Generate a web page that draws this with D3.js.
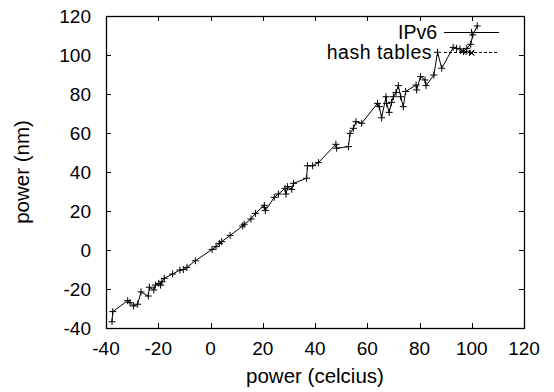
<!DOCTYPE html>
<html><head><meta charset="utf-8">
<script src="https://cdn.jsdelivr.net/npm/d3@7"></script>
<style>body{margin:0;background:#fff}svg{display:block}text{font-family:"Liberation Sans",Arial,sans-serif;fill:#000}</style>
</head><body><svg id="c" width="554" height="392"></svg>
<script>
const xTicks = [-40,-20,0,20,40,60,80,100,120];
const yTicks = [-40,-20,0,20,40,60,80,100,120];
const seriesNames = ["IPv6","hash tables"];
const ipv6X = [-37.7,-37.4,-31.7,-30.8,-29.5,-27.9,-26.6,-23.8,-23.4,-21.7,-21.1,-19.8,-19.1,-18.6,-17.7,-14.5,-11.7,-10.4,-9.0,-5.8,0.6,2.1,3.4,4.3,7.5,12.3,12.9,15.5,17.2,20.6,20.6,21.0,24.4,26.0,28.5,28.9,29.5,31.1,31.8,36.8,37.1,39.1,41.3,48.0,48.3,52.8,53.4,54.7,55.7,57.9,63.9,64.6,65.5,67.2,67.4,68.4,69.3,70.0,71.0,71.9,72.8,73.8,74.7,78.7,78.9,80.4,82.1,82.5,85.5,86.9,88.5,92.9,94.2,95.5,96.8,98.1,99.6,100.4,102.1];
const ipv6Y = [-36.8,-31.6,-26.0,-27.0,-28.7,-27.8,-21.5,-23.6,-19.1,-20.5,-18.0,-17.1,-18.0,-16.3,-14.5,-12.3,-10.3,-10.0,-8.9,-5.5,0.3,1.7,3.4,4.3,7.5,12.3,13.2,15.9,18.8,22.9,21.9,20.2,27.0,28.7,31.6,28.7,32.5,31.1,34.2,36.8,43.2,43.2,44.8,54.2,52.2,53.0,59.8,62.4,65.8,65.0,75.2,73.5,67.8,78.6,75.2,70.6,75.7,78.6,80.8,84.3,78.6,73.5,81.3,84.6,82.1,88.9,87.2,84.3,89.7,101.4,93.2,103.9,103.4,103.1,101.7,103.4,105.5,110.3,114.9];
const hashX = [96.6,98.7,100.0];
const hashY = [101.8,101.4,100.9];

const svg = d3.select("#c");
const L=106,R=524,T=16,B=328;
const x = d3.scaleLinear().domain([-40,120]).range([L,R]);
const y = d3.scaleLinear().domain([-40,120]).range([B,T]);
const FS = 19, FL = 20.5, FG = 19.5, TK = 5;

const g = svg.append("g").attr("stroke","#000").attr("stroke-width",1);
xTicks.forEach(v=>{
  const px = Math.round(x(v))+0.5;
  g.append("line").attr("x1",px).attr("x2",px).attr("y1",B).attr("y2",B-TK);
  g.append("line").attr("x1",px).attr("x2",px).attr("y1",T).attr("y2",T+TK);
});
yTicks.forEach(v=>{
  const py = Math.round(y(v))+0.5;
  g.append("line").attr("x1",L).attr("x2",L+TK).attr("y1",py).attr("y2",py);
  g.append("line").attr("x1",R).attr("x2",R-TK).attr("y1",py).attr("y2",py);
});
svg.append("rect").attr("x",L+0.5).attr("y",T+0.5).attr("width",R-L).attr("height",B-T)
  .attr("fill","none").attr("stroke","#000").attr("stroke-width",1.3);

svg.append("g").selectAll("text").data(xTicks).join("text")
  .attr("x",d=>x(d)).attr("y",355).attr("text-anchor","middle").attr("font-size",FS).text(d=>d);
svg.append("g").selectAll("text").data(yTicks).join("text")
  .attr("x",91).attr("y",d=>y(d)+6.5).attr("text-anchor","end").attr("font-size",FS).text(d=>d);

svg.append("text").attr("x",(L+R)/2).attr("y",383).attr("text-anchor","middle").attr("font-size",FL).text("power (celcius)");
svg.append("text").attr("transform",`translate(29,${(T+B)/2}) rotate(-90)`).attr("text-anchor","middle").attr("font-size",FL).text("power (nm)");

const ipv6 = ipv6X.map((v,i)=>[v,ipv6Y[i]]);
const hash = hashX.map((v,i)=>[v,hashY[i]]);
const line = d3.line().x(d=>x(d[0])).y(d=>y(d[1]));

svg.append("path").datum(hash).attr("d",line).attr("fill","none").attr("stroke","#000").attr("stroke-width",1).attr("stroke-dasharray","3,2");
svg.append("path").datum(ipv6).attr("d",line).attr("fill","none").attr("stroke","#000").attr("stroke-width",1);

const S=3.5;
function plus(sel,cx,cy){sel.append("path").attr("d",`M${cx-S},${cy}H${cx+S}M${cx},${cy-S}V${cy+S}`).attr("stroke","#000").attr("stroke-width",1).attr("fill","none");}
function cross(sel,cx,cy){const s=S*0.75;sel.append("path").attr("d",`M${cx-s},${cy-s}L${cx+s},${cy+s}M${cx-s},${cy+s}L${cx+s},${cy-s}`).attr("stroke","#000").attr("stroke-width",1).attr("fill","none");}
const mk = svg.append("g");
ipv6.forEach(d=>plus(mk,x(d[0]),y(d[1])));
hash.forEach(d=>cross(mk,x(d[0]),y(d[1])));

const lg = svg.append("g");
lg.append("text").attr("x",437).attr("y",38.5).attr("text-anchor","end").attr("font-size",FG).text(seriesNames[0]);
lg.append("text").attr("x",432).attr("y",58.5).attr("text-anchor","end").attr("font-size",FG).attr("letter-spacing",0.5).text(seriesNames[1]);
lg.append("line").attr("x1",444).attr("x2",499).attr("y1",32.5).attr("y2",32.5).attr("stroke","#000");
lg.append("line").attr("x1",444).attr("x2",499).attr("y1",52.5).attr("y2",52.5).attr("stroke","#000").attr("stroke-dasharray","3,2");
plus(lg,471.5,32.5); cross(lg,471.5,52.5);
</script></body></html>
